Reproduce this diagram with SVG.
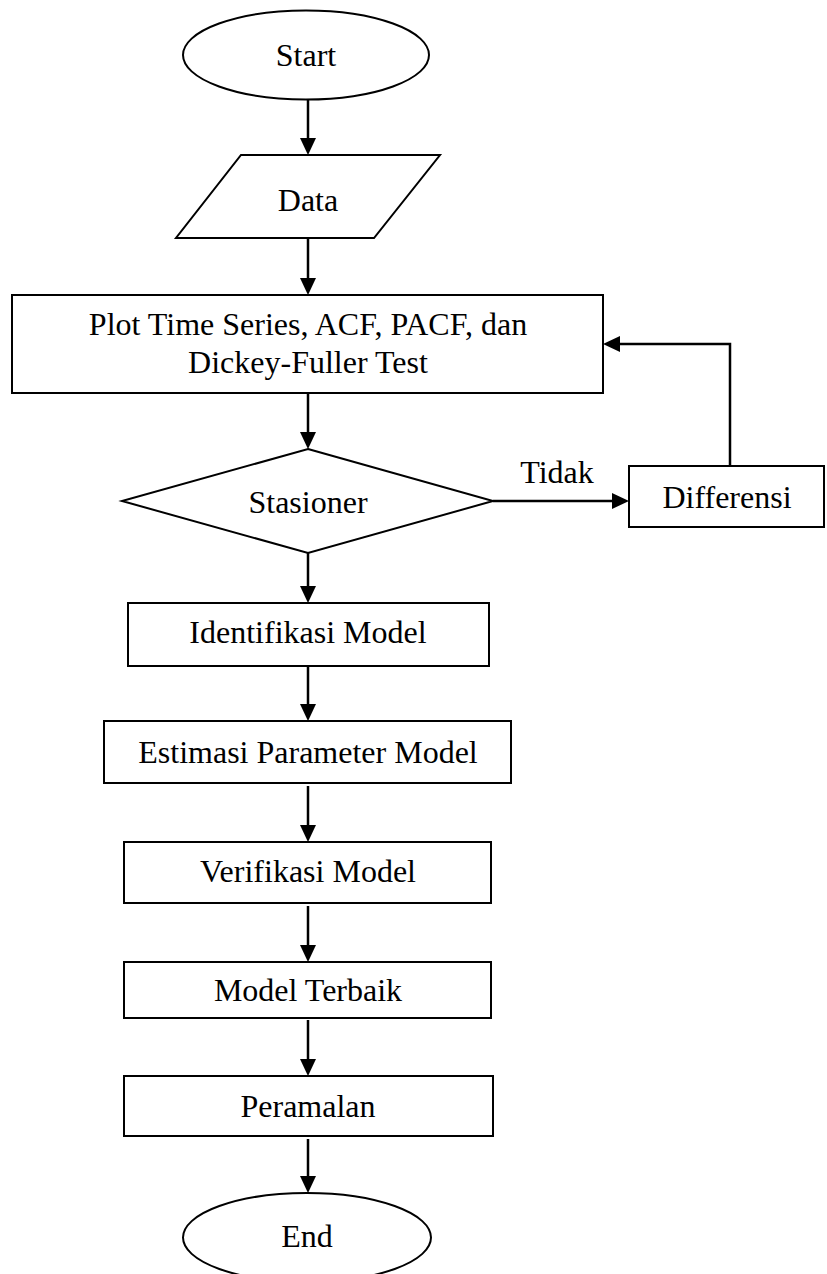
<svg xmlns="http://www.w3.org/2000/svg" width="827" height="1274" viewBox="0 0 827 1274">
<style>
.s{fill:#fff;stroke:#000;stroke-width:2}
.t{font-family:"Liberation Serif","Times New Roman",serif;font-size:32px;fill:#000;text-anchor:middle}
.c{fill:none;stroke:#000;stroke-width:2.5}
</style>
<rect width="827" height="1274" fill="#fff"/>
<g id="connectors">
<path class="c" d="M308,99 V138"/><path d="M300,138 L316,138 L308,155 z"/>
<path class="c" d="M308,238 V278"/><path d="M300,278 L316,278 L308,295 z"/>
<path class="c" d="M308,393 V432"/><path d="M300,432 L316,432 L308,449 z"/>
<path class="c" d="M493,501 H612"/><path d="M612,493 L612,509 L629,501 z"/>
<path class="c" d="M730,466 V344 H620"/><path d="M620,336 L620,352 L603,344 z"/>
<path class="c" d="M308,553 V586"/><path d="M300,586 L316,586 L308,603 z"/>
<path class="c" d="M308,666 V704"/><path d="M300,704 L316,704 L308,721 z"/>
<path class="c" d="M308,786 V825"/><path d="M300,825 L316,825 L308,842 z"/>
<path class="c" d="M308,906 V945"/><path d="M300,945 L316,945 L308,962 z"/>
<path class="c" d="M308,1020 V1059"/><path d="M300,1059 L316,1059 L308,1076 z"/>
<path class="c" d="M308,1139 V1176"/><path d="M300,1176 L316,1176 L308,1193 z"/>
<text class="t" x="557" y="483">Tidak</text>
</g>
<g id="start"><ellipse class="s" cx="306" cy="55" rx="123" ry="44.5"/><text class="t" x="306" y="66">Start</text></g>
<g id="data"><polygon class="s" points="241,155 440,155 374,238 176,238"/><text class="t" x="308" y="211">Data</text></g>
<g id="plot"><rect class="s" x="12" y="295" width="591" height="98"/><text class="t" x="308" y="335">Plot Time Series, ACF, PACF, dan</text><text class="t" x="308" y="373">Dickey-Fuller Test</text></g>
<g id="stasioner"><polygon class="s" points="308,449 493,501 308,553 122,501"/><text class="t" x="308" y="513">Stasioner</text></g>
<g id="differensi"><rect class="s" x="629" y="466" width="195" height="61"/><text class="t" x="727" y="508">Differensi</text></g>
<g id="identifikasi"><rect class="s" x="128" y="603" width="361" height="63"/><text class="t" x="308" y="643">Identifikasi Model</text></g>
<g id="estimasi"><rect class="s" x="104" y="721" width="407" height="62"/><text class="t" x="308" y="763">Estimasi Parameter Model</text></g>
<g id="verifikasi"><rect class="s" x="124" y="842" width="367" height="61"/><text class="t" x="308" y="882">Verifikasi Model</text></g>
<g id="terbaik"><rect class="s" x="124" y="962" width="367" height="56"/><text class="t" x="308" y="1001">Model Terbaik</text></g>
<g id="peramalan"><rect class="s" x="124" y="1076" width="369" height="60"/><text class="t" x="308" y="1117">Peramalan</text></g>
<g id="end"><ellipse class="s" cx="307" cy="1237.5" rx="124" ry="44.5"/><text class="t" x="307" y="1247">End</text></g>
</svg>
